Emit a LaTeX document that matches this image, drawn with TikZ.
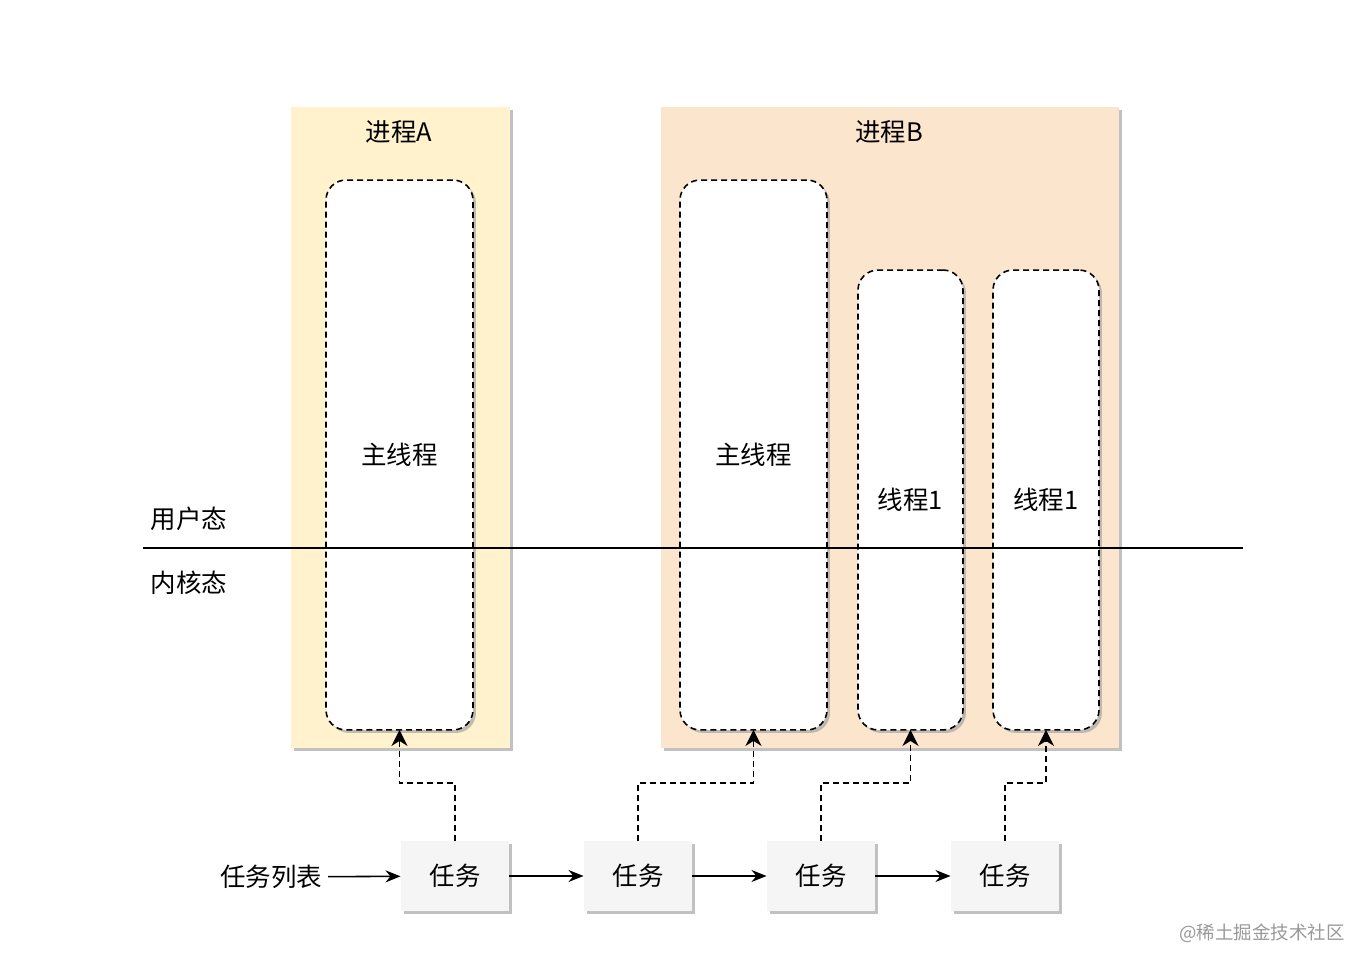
\documentclass[tikz,border=0pt]{standalone}
\usepackage{fontspec}
\setmainfont{Noto Sans CJK SC}
\usepackage{tikz}
\usetikzlibrary{arrows.meta,shadows}
\usepackage{xcolor}
\definecolor{procAfill}{HTML}{FFF2CC}
\definecolor{procBfill}{HTML}{FCE5CD}
\definecolor{taskfill}{HTML}{F5F5F5}

\begin{document}
\begin{tikzpicture}[
    x=0.02cm, y=-0.02cm,
    font=\fontsize{14.5}{17}\selectfont,
    shade/.style={drop shadow={shadow xshift=0.06cm, shadow yshift=-0.06cm, fill=black!35, opacity=0.7}},
    proc/.style={shade, inner sep=0pt, outer sep=0pt},
    thread/.style={shade, draw, fill=white, dash pattern=on 0.12cm off 0.08cm, line width=0.9pt, rounded corners=0.4cm, inner sep=0pt, outer sep=0pt},
    task/.style={shade, fill=taskfill, minimum width=2.18cm, minimum height=1.4cm, inner sep=0pt, outer sep=0pt},
    arrow/.style={-{Stealth[length=0.3cm, width=0.24cm]}, line width=0.9pt},
    dasharrow/.style={-{Stealth[length=0.32cm, width=0.32cm, inset=0.1cm]}, line width=1pt, dash pattern=on 0.12cm off 0.08cm}
]
\useasboundingbox (0,0) rectangle (1367,969);

% Processes
\node[proc, fill=procAfill, minimum width=4.38cm, minimum height=12.82cm] (pA) at (400.5,427.5) {};
\node[proc, fill=procBfill, minimum width=9.16cm, minimum height=12.82cm] (pB) at (890,427.5) {};
\node (pAlabel) at (399,132) {进程A};
\node (pBlabel) at (889,132) {进程B};

% Threads
\node[thread, minimum width=2.94cm, minimum height=11cm] (mainA) at (399.5,455) {};
\node[thread, minimum width=2.94cm, minimum height=11cm] (mainB) at (753.5,455) {};
\node[thread, minimum width=2.1cm, minimum height=9.2cm] (thrA) at (910.5,500) {};
\node[thread, minimum width=2.12cm, minimum height=9.2cm] (thrB) at (1046,500) {};
\node (mainAlabel) at (mainA) {主线程};
\node (mainBlabel) at (mainB) {主线程};
\node (thrAlabel) at (thrA) {线程1};
\node (thrBlabel) at (thrB) {线程1};

% User / kernel divide
\draw[line width=0.9pt] (143,548) -- (1243,548);
\node (user) at (189,519) {用户态};
\node (kernel) at (189,583) {内核态};

% Task list
\node (tasklist) at (271,877) {任务列表};
\node[task] (t1) at (455,876) {任务};
\node[task] (t2) at (638,876) {任务};
\node[task] (t3) at (821,876) {任务};
\node[task] (t4) at (1005,876) {任务};

\draw[arrow] (tasklist) -- (t1);
\draw[arrow] (t1) -- (t2);
\draw[arrow] (t2) -- (t3);
\draw[arrow] (t3) -- (t4);

% Tasks to threads
\draw[dasharrow] (t1.north) -- ++(0,-58) -| (mainA.south);
\draw[dasharrow] (t2.north) -- ++(0,-58) -| (mainB.south);
\draw[dasharrow] (t3.north) -- ++(0,-58) -| (thrA.south);
\draw[dasharrow] (t4.north) -- ++(0,-58) -| (thrB.south);

\node[text=black!40, font=\fontsize{10.5}{12}\selectfont] (mark) at (1262,933) {@稀土掘金技术社区};

\end{tikzpicture}
\end{document}
